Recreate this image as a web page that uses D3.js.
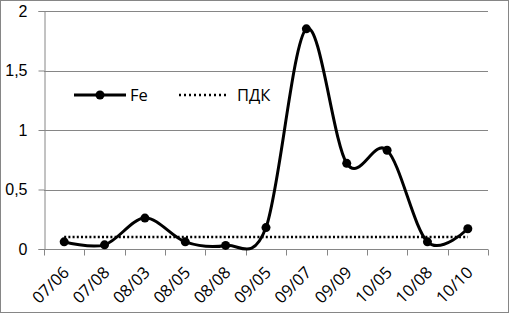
<!DOCTYPE html>
<html>
<head>
<meta charset="utf-8">
<script src="https://cdn.jsdelivr.net/npm/d3@7"></script>
<style>
  body { margin: 0; background: #fff; }
  svg { display: block; font-family: "Open Sans", sans-serif; }
</style>
</head>
<body>
<svg class="chart"></svg>
<script>
const categories = ["07/06", "07/08", "08/03", "08/05", "08/08", "09/05", "09/07", "09/09", "10/05", "10/08", "10/10"];
const feValues = [0.06, 0.035, 0.26, 0.06, 0.03, 0.18, 1.85, 0.72, 0.83, 0.06, 0.17];
const pdkValues = [0.1, 0.1, 0.1, 0.1, 0.1, 0.1, 0.1, 0.1, 0.1, 0.1, 0.1];
const yTicks = [0, 0.5, 1, 1.5, 2];
const seriesNames = ["Fe", "ПДК"];

const W = 509, H = 313;
const margin = { top: 11, right: 21, bottom: 64, left: 44 },
      width = W - margin.left - margin.right,
      height = H - margin.top - margin.bottom;

const grey = "#868686";

const root = d3.select(".chart")
    .attr("width", W)
    .attr("height", H);

// outer chart border
root.append("rect")
    .attr("x", 0.5).attr("y", 0.5)
    .attr("width", W - 1).attr("height", H - 1)
    .attr("fill", "#fff")
    .attr("stroke", grey);

const svg = root.append("g")
    .attr("transform", `translate(${margin.left}, ${margin.top})`);

const x = d3.scaleBand()
    .range([0, width])
    .domain(categories);

const y = d3.scaleLinear()
    .domain([0, 2])
    .range([height, 0]);

const fmt = d => d3.format("")(d).replace(".", ",");

// gridlines
svg.append("g")
    .selectAll("line")
    .data(yTicks.slice(1))
    .enter().append("line")
    .attr("x1", 0).attr("x2", width)
    .attr("y1", d => Math.round(y(d)) + 0.5)
    .attr("y2", d => Math.round(y(d)) + 0.5)
    .attr("stroke", grey);

// y axis
const yAxis = svg.append("g")
    .attr("transform", "translate(0.5, 0)")
    .call(d3.axisLeft(y).tickValues(yTicks).tickFormat(fmt).tickSize(6).tickPadding(11));
yAxis.selectAll("path, line").attr("stroke", grey);
yAxis.selectAll("text").attr("font-size", 16).attr("fill", "#000");

// x axis, ticks on band edges
const xAxis = svg.append("g")
    .attr("transform", `translate(0, ${height + 0.5})`);
xAxis.append("line")
    .attr("x1", 0).attr("x2", width)
    .attr("stroke", grey);
xAxis.selectAll(".tick")
    .data(d3.range(categories.length + 1))
    .enter().append("line")
    .attr("x1", i => Math.round(i * x.step()) + 0.5)
    .attr("x2", i => Math.round(i * x.step()) + 0.5)
    .attr("y1", 0).attr("y2", 6)
    .attr("stroke", grey);
xAxis.selectAll("text")
    .data(categories)
    .enter().append("text")
    .attr("transform", d => `translate(${x(d) + x.bandwidth() / 2 + 2}, 20) rotate(-45)`)
    .attr("text-anchor", "end")
    .attr("dy", "0.35em")
    .attr("font-size", 16.5)
    .text(d => d);

const cx = (d, i) => x(categories[i]) + x.bandwidth() / 2;

// ПДК dotted line
svg.append("path")
    .datum(pdkValues)
    .attr("fill", "none")
    .attr("stroke", "#000")
    .attr("stroke-width", 2.5)
    .attr("stroke-dasharray", "2,2.2")
    .attr("d", d3.line().x(cx).y(d => y(d)));

// Fe smoothed line
svg.append("path")
    .datum(feValues)
    .attr("fill", "none")
    .attr("stroke", "#000")
    .attr("stroke-width", 3)
    .attr("d", d3.line().curve(d3.curveCatmullRom.alpha(0)).x(cx).y(d => y(d)));

svg.selectAll(".dot")
    .data(feValues)
    .enter().append("circle")
    .attr("class", "dot")
    .attr("cx", cx)
    .attr("cy", d => y(d))
    .attr("r", 4.5);

// legend
const legend = svg.append("g")
    .attr("transform", `translate(${74 - margin.left}, ${95 - margin.top})`);
legend.append("line")
    .attr("x1", 0).attr("x2", 52)
    .attr("stroke", "#000").attr("stroke-width", 3);
legend.append("circle")
    .attr("cx", 26).attr("r", 4.5);
legend.append("text")
    .attr("x", 56).attr("dy", "0.35em")
    .attr("font-size", 16.5)
    .text(seriesNames[0]);
legend.append("line")
    .attr("x1", 105).attr("x2", 152)
    .attr("stroke", "#000").attr("stroke-width", 2.5)
    .attr("stroke-dasharray", "2,3");
legend.append("text")
    .attr("x", 163).attr("dy", "0.35em")
    .attr("font-size", 16.5)
    .text(seriesNames[1]);
</script>
</body>
</html>
